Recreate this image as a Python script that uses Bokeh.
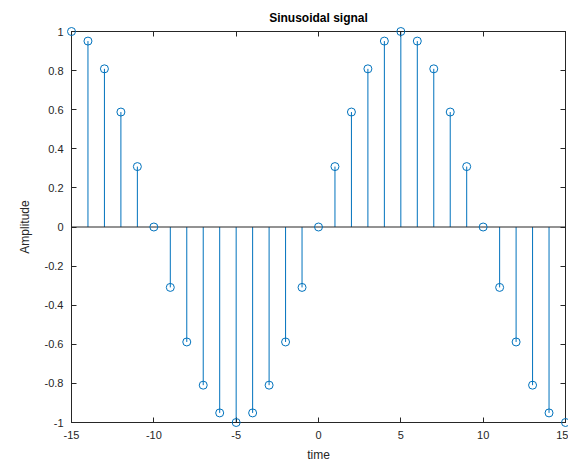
from bokeh.plotting import figure
from bokeh.models import ColumnDataSource, Range1d, LinearAxis, Span, FixedTicker
from bokeh.embed import file_html
from bokeh.resources import INLINE

time = [-15, -14, -13, -12, -11, -10, -9, -8, -7, -6, -5, -4, -3, -2, -1, 0,
        1, 2, 3, 4, 5, 6, 7, 8, 9, 10, 11, 12, 13, 14, 15]
amplitude = [1.0, 0.951, 0.809, 0.588, 0.309, 0.0, -0.309, -0.588, -0.809, -0.951, -1.0,
             -0.951, -0.809, -0.588, -0.309, 0.0, 0.309, 0.588, 0.809, 0.951, 1.0,
             0.951, 0.809, 0.588, 0.309, 0.0, -0.309, -0.588, -0.809, -0.951, -1.0]
x_ticks = [-15, -10, -5, 0, 5, 10, 15]
y_ticks = [-1, -0.8, -0.6, -0.4, -0.2, 0, 0.2, 0.4, 0.6, 0.8, 1]
y_tick_labels = ["-1", "-0.8", "-0.6", "-0.4", "-0.2", "0", "0.2", "0.4", "0.6", "0.8", "1"]
x_tick_labels = [str(t) for t in x_ticks]
title_text = "Sinusoidal signal"

src = ColumnDataSource(dict(x=time, y=amplitude, z=[0] * len(time)))

FONT = "Liberation Sans"
AX = "#262626"
BLUE = "#0072BD"

p = figure(width=568, height=464, output_backend="svg", toolbar_location=None,
           x_range=Range1d(-15, 15), y_range=Range1d(-1, 1),
           min_border_left=71, min_border_right=3, min_border_top=31, min_border_bottom=38,
           title=title_text)
p.title.align = "center"
p.title.text_font = FONT
p.title.text_font_size = "12px"
p.title.text_font_style = "bold"
p.title.text_color = "#000000"
p.title.offset = 0
p.title.standoff = 14

p.xgrid.visible = False
p.ygrid.visible = False
p.outline_line_color = AX
p.outline_line_width = 1

p.segment(x0="x", y0="z", x1="x", y1="y", source=src, line_color=BLUE, line_width=1)
p.add_layout(Span(location=0, dimension="width", line_color=AX, line_width=1))
p.scatter(x="x", y="y", source=src, marker="circle", size=8, fill_color=None,
          line_color=BLUE, line_width=1, level="overlay")

for ax in (p.xaxis[0], p.yaxis[0]):
    ax.major_tick_in = 5
    ax.major_tick_out = 0
    ax.minor_tick_in = 0
    ax.minor_tick_out = 0
    ax.axis_line_color = AX
    ax.major_tick_line_color = AX
    ax.major_label_text_font = FONT
    ax.major_label_text_font_size = "11px"
    ax.major_label_text_color = AX
    ax.axis_label_text_font = FONT
    ax.axis_label_text_font_size = "12px"
    ax.axis_label_text_font_style = "normal"
    ax.axis_label_text_color = AX

p.xaxis[0].ticker = FixedTicker(ticks=x_ticks)
p.xaxis[0].major_label_overrides = {t: l for t, l in zip(x_ticks, x_tick_labels)}
p.xaxis[0].axis_label = "time"
p.xaxis[0].axis_label_standoff = 6
p.xaxis[0].major_label_standoff = 8
p.yaxis[0].ticker = FixedTicker(ticks=y_ticks)
p.yaxis[0].major_label_overrides = {t: l for t, l in zip(y_ticks, y_tick_labels)}
p.yaxis[0].axis_label = "Amplitude"
p.yaxis[0].axis_label_standoff = 10
p.yaxis[0].major_label_standoff = 8

top = LinearAxis(ticker=FixedTicker(ticks=x_ticks), major_tick_in=5, major_tick_out=0,
                 minor_tick_in=0, minor_tick_out=0, major_label_text_color=None,
                 major_label_text_font_size="0px", major_label_standoff=0,
                 axis_line_color=AX, major_tick_line_color=AX)
right = LinearAxis(ticker=FixedTicker(ticks=y_ticks), major_tick_in=5, major_tick_out=0,
                   minor_tick_in=0, minor_tick_out=0, major_label_text_color=None,
                   major_label_text_font_size="0px", major_label_standoff=0,
                   axis_line_color=AX, major_tick_line_color=AX)
p.add_layout(top, "above")
p.add_layout(right, "right")

open("out.html", "w").write(file_html(p, INLINE))
